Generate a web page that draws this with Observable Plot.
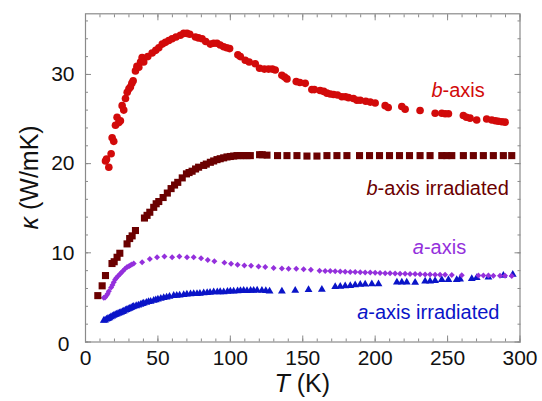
<!DOCTYPE html>
<html><head><meta charset="utf-8">
<script src="https://cdn.jsdelivr.net/npm/d3@7"></script>
<script src="https://cdn.jsdelivr.net/npm/@observablehq/plot@0.6"></script>
<style>body{margin:0;background:#fff} svg{display:block}</style>
</head><body><div id="chart"></div><script>
// [T (K), kappa (W/mK)]
const bAxis = [[13.8,20.3],[14.5,20.5],[16.1,19.6],[17.7,21.1],[18.4,22.9],[19.5,22.5],[20.7,24.3],[21.8,25.2],[23.0,24.6],[24.1,24.8],[25.3,26.5],[26.4,26.0],[27.6,27.3],[28.8,28.0],[30.0,28.4],[31.0,28.6],[32.0,29.0],[32.9,29.3],[34.5,30.4],[35.5,30.9],[36.8,30.8],[38.0,31.4],[39.1,31.9],[40.2,31.4],[43.0,32.0],[46.0,32.4],[48.5,32.7],[50.6,33.0],[53.0,33.4],[55.2,33.6],[57.5,33.8],[59.8,34.0],[62.5,34.2],[65.5,34.4],[67.8,34.6],[70.1,34.6],[72.0,34.5],[75.9,34.2],[78.0,34.1],[80.5,34.0],[83.0,33.7],[86.2,33.4],[88.5,33.5],[90.8,33.5],[93.0,33.3],[95.4,33.1],[97.5,33.0],[99.5,32.9],[105.2,32.2],[106.9,32.0],[110.3,31.6],[113.0,31.4],[117.2,31.2],[120.2,30.7],[123.5,30.6],[126.4,30.6],[129.0,30.6],[131.0,30.5],[135.6,29.9],[137.5,29.7],[139.1,29.5],[145.5,29.2],[148.0,29.1],[151.7,29.0],[156.3,28.3],[158.0,28.3],[162.0,28.2],[164.5,28.1],[166.7,27.9],[169.0,27.8],[171.3,27.75],[174.0,27.7],[177.0,27.5],[179.5,27.5],[181.6,27.4],[185.0,27.3],[187.4,27.1],[189.7,27.1],[193.5,27.0],[196.6,26.9],[200.0,26.8],[206.9,26.5],[209.0,26.3],[218.4,26.4],[220.7,26.1],[231.0,25.95],[241.4,25.65],[246.0,25.65],[248.3,25.6],[250.6,25.6],[260.9,25.4],[263.0,25.2],[265.5,25.1],[270.1,24.9],[277.0,25.0],[280.5,24.9],[283.0,24.8],[285.0,24.75],[287.5,24.7],[289.7,24.65]];
const bAxisIrr = [[8.5,5.2],[11.5,6.3],[13.8,7.45],[18.3,8.8],[19.8,9.0],[21.8,9.5],[23.7,9.95],[28.7,11.0],[30.5,11.6],[32.2,11.9],[34.5,12.5],[40.7,13.9],[42.5,14.2],[44.4,14.55],[47.1,15.1],[48.8,15.5],[50.6,15.75],[53.6,16.2],[56.5,16.7],[59.1,17.2],[61.5,17.6],[63.7,17.9],[66.8,18.4],[69.7,18.85],[71.5,19.0],[73.6,19.15],[76.0,19.4],[78.1,19.6],[81.6,19.8],[83.4,19.95],[86.2,20.15],[88.5,20.3],[90.8,20.45],[93.0,20.55],[95.4,20.65],[97.7,20.75],[100.0,20.8],[102.3,20.85],[104.6,20.9],[107.0,20.9],[109.2,20.9],[111.5,20.9],[113.8,20.9],[120.2,21.0],[122.0,21.0],[125.3,20.95],[132.6,20.9],[139.1,20.9],[146.0,20.9],[152.9,20.85],[159.8,20.85],[166.7,20.9],[173.6,20.9],[180.5,20.9],[189.2,20.9],[196.1,20.9],[203.0,20.9],[209.9,20.9],[216.8,20.9],[223.7,20.9],[231.0,20.9],[237.9,20.9],[246.0,20.9],[249.4,20.9],[252.9,20.9],[260.9,20.9],[267.8,20.9],[274.7,20.9],[281.6,20.9],[288.5,20.9],[294.3,20.9]];
const aAxis = [[12.6,4.95],[13.5,5.0],[14.5,5.2],[15.3,5.4],[16.1,5.7],[17.7,6.1],[18.6,6.4],[19.5,6.7],[20.5,7.0],[21.4,7.2],[22.5,7.4],[23.7,7.6],[24.8,7.8],[26.0,8.0],[27.3,8.2],[28.7,8.4],[30.0,8.5],[31.0,8.6],[32.0,8.7],[33.3,8.8],[39.1,8.95],[44.4,9.3],[49.4,9.5],[54.5,9.6],[59.8,9.5],[64.8,9.6],[70.1,9.5],[74.7,9.5],[79.8,9.4],[84.4,9.2],[89.0,9.06],[95.9,8.9],[100.5,8.77],[105.0,8.65],[109.7,8.58],[114.3,8.54],[119.5,8.46],[124.1,8.4],[129.9,8.3],[135.6,8.25],[140.2,8.2],[145.5,8.2],[150.6,8.15],[155.6,8.1],[161.6,8.0],[165.5,7.97],[169.0,7.95],[172.4,7.93],[175.9,7.9],[179.3,7.88],[182.8,7.86],[186.2,7.84],[189.7,7.82],[193.1,7.8],[196.6,7.78],[200.0,7.76],[203.4,7.74],[206.9,7.72],[210.3,7.7],[213.8,7.68],[217.2,7.66],[220.7,7.65],[224.1,7.63],[227.6,7.62],[231.0,7.6],[234.5,7.58],[237.9,7.56],[241.4,7.55],[244.8,7.54],[248.3,7.53],[252.9,7.5],[259.8,7.48],[271.3,7.47],[274.7,7.45],[278.2,7.45],[281.6,7.44],[286.2,7.43],[289.7,7.42],[294.3,7.4]];
const aAxisIrr = [[12.6,2.41],[13.5,2.45],[14.5,2.55],[15.5,2.62],[16.5,2.7],[17.5,2.8],[18.5,2.9],[19.5,2.97],[20.5,3.05],[21.5,3.1],[22.5,3.2],[23.5,3.25],[24.5,3.32],[25.5,3.4],[26.4,3.45],[27.5,3.55],[28.5,3.62],[29.5,3.7],[30.5,3.75],[31.5,3.85],[32.5,3.92],[33.3,3.98],[35.0,4.05],[36.5,4.12],[38.0,4.2],[39.2,4.28],[40.2,4.35],[42.0,4.42],[43.5,4.5],[45.0,4.55],[47.1,4.65],[48.5,4.72],[50.0,4.8],[52.0,4.88],[54.0,4.95],[56.0,5.02],[58.0,5.1],[60.9,5.2],[63.0,5.22],[65.0,5.25],[67.8,5.3],[70.0,5.35],[72.5,5.38],[74.7,5.4],[77.0,5.42],[79.0,5.45],[81.6,5.5],[84.0,5.52],[86.0,5.55],[88.5,5.6],[91.0,5.6],[93.0,5.62],[95.4,5.6],[98.0,5.65],[100.0,5.7],[102.3,5.7],[105.0,5.72],[107.0,5.75],[109.2,5.77],[111.5,5.75],[114.0,5.77],[116.1,5.77],[118.5,5.8],[121.8,5.77],[124.5,5.75],[127.1,5.7],[135.6,5.7],[144.8,5.77],[154.0,5.85],[163.2,5.89],[172.4,6.2],[175.9,6.22],[179.3,6.28],[182.8,6.3],[186.2,6.38],[189.7,6.45],[193.1,6.48],[197.7,6.5],[202.3,6.5],[215.0,6.7],[218.4,6.7],[221.8,6.7],[227.6,6.67],[234.5,6.8],[237.9,6.82],[241.4,6.87],[246.0,6.97],[250.6,6.97],[256.3,6.97],[258.6,7.05],[266.7,7.08],[270.1,7.2],[278.2,7.26],[288.5,7.45],[295.0,7.57]];

const xMajor = [0, 50, 100, 150, 200, 250, 300];
const xMinor = d3.range(0, 301, 10);
const yMajor = [0, 10, 20, 30];
const yMinor = d3.range(0, 37, 2);

const seriesNames = ["b-axis", "b-axis irradiated", "a-axis", "a-axis irradiated"];
const seriesColors = ["#d20a0a", "#6b0000", "#9430dc", "#0a14c8"];
const labelItalic = ["b", "b", "a", "a"];
const labelRest = ["-axis", "-axis irradiated", "-axis", "-axis irradiated"];
const labelT = [276, 292.6, 263.2, 286.2];
const labelK = [28.2, 17.2, 10.6, 3.34];

const FONT = "'Liberation Sans', Arial, Helvetica, sans-serif";
const frameColor = "#8a8a8a";

const px = d => d[0], py = d => d[1];

const plot = Plot.plot({
  width: 542, height: 401,
  marginLeft: 85, marginRight: 22.5, marginTop: 13.3, marginBottom: 59.5,
  style: {fontFamily: FONT, color: "#111", background: "#fff"},
  x: {domain: [0, 300]},
  y: {domain: [0, 36.8]},
  marks: [
    Plot.axisX({anchor: "bottom", ticks: xMajor, tickSize: 0, tickPadding: 8, fontSize: 21, label: null}),
    Plot.axisY({anchor: "left", ticks: yMajor.slice(1), tickSize: 0, tickPadding: 11, fontSize: 21, label: null}),
    Plot.axisY({anchor: "left", ticks: [0], tickSize: 0, tickPadding: 16, dy: 2, fontSize: 21, label: null}),
    Plot.axisX({anchor: "bottom", ticks: xMajor, tickSize: -6, text: null, label: null, stroke: frameColor}),
    Plot.axisX({anchor: "top", ticks: xMajor, tickSize: -6, text: null, label: null, stroke: frameColor}),
    Plot.axisX({anchor: "bottom", ticks: xMinor, tickSize: -3, text: null, label: null, stroke: frameColor}),
    Plot.axisX({anchor: "top", ticks: xMinor, tickSize: -3, text: null, label: null, stroke: frameColor}),
    Plot.axisY({anchor: "left", ticks: yMajor, tickSize: -6, text: null, label: null, stroke: frameColor}),
    Plot.axisY({anchor: "right", ticks: yMajor, tickSize: -6, text: null, label: null, stroke: frameColor}),
    Plot.axisY({anchor: "left", ticks: yMinor, tickSize: -3, text: null, label: null, stroke: frameColor}),
    Plot.axisY({anchor: "right", ticks: yMinor, tickSize: -3, text: null, label: null, stroke: frameColor}),
    Plot.frame({stroke: frameColor, strokeWidth: 1.2}),
    Plot.dot(aAxisIrr, {x: px, y: py, symbol: "triangle", r: 2.9, fill: seriesColors[3], stroke: "none"}),
    Plot.dot(aAxis, {x: px, y: py, symbol: "diamond2", r: 2.7, fill: seriesColors[2], stroke: "none"}),
    Plot.dot(bAxisIrr, {x: px, y: py, symbol: "square", r: 4.0, fill: seriesColors[1], stroke: "none"}),
    Plot.dot(bAxis, {x: px, y: py, symbol: "circle", r: 3.8, fill: seriesColors[0], stroke: "none"})
  ]
});

document.getElementById("chart").appendChild(plot);

const svg = d3.select(plot);
const sx = plot.scale("x"), sy = plot.scale("y");

// series labels
seriesNames.forEach((name, i) => {
  const t = svg.append("text")
    .attr("x", sx.apply(labelT[i]))
    .attr("y", sy.apply(labelK[i]))
    .attr("text-anchor", "end")
    .attr("dy", "0.35em")
    .attr("font-family", FONT)
    .attr("font-size", 20)
    .attr("fill", seriesColors[i]);
  t.append("tspan").attr("font-style", "italic").text(labelItalic[i]);
  t.append("tspan").text(labelRest[i]);
});

// axis titles
const xt = svg.append("text")
  .attr("x", (sx.apply(0) + sx.apply(300)) / 2)
  .attr("y", 383)
  .attr("dy", "0.35em")
  .attr("text-anchor", "middle")
  .attr("font-family", FONT)
  .attr("font-size", 25)
  .attr("fill", "#111");
xt.append("tspan").attr("font-style", "italic").text("T");
xt.append("tspan").text(" (K)");

const yc = (sy.apply(0) + sy.apply(36.8)) / 2;
const yt = svg.append("text")
  .attr("transform", `translate(29,${yc}) rotate(-90)`)
  .attr("dy", "0.35em")
  .attr("text-anchor", "middle")
  .attr("font-family", FONT)
  .attr("font-size", 25)
  .attr("fill", "#111");
yt.append("tspan").attr("font-style", "italic").text("κ");
yt.append("tspan").text(" (W/mK)");
</script></body></html>
